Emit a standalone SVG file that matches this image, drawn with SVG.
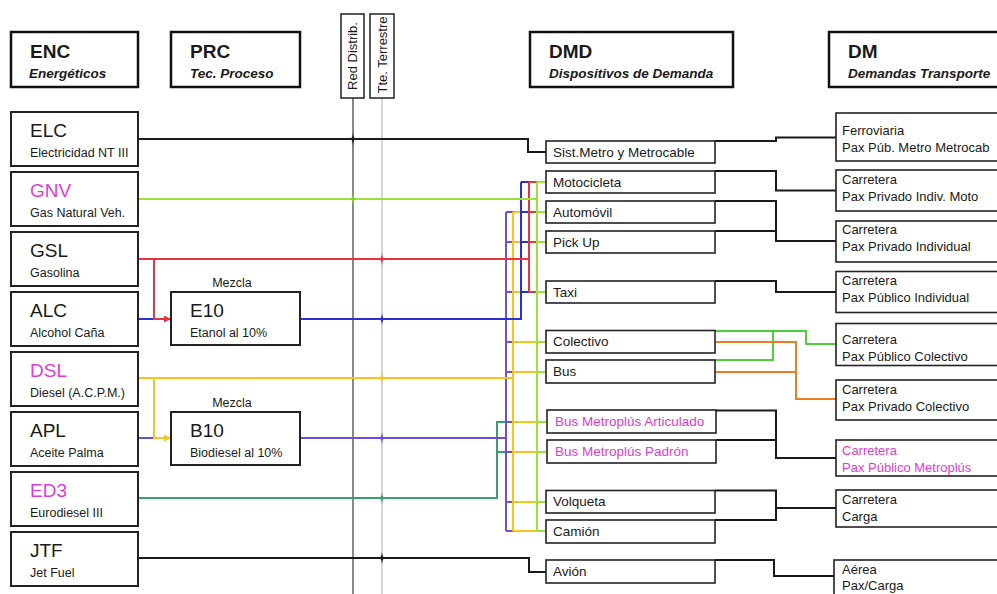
<svg xmlns="http://www.w3.org/2000/svg" width="997" height="594" viewBox="0 0 997 594">
<defs>
<style>
text{font-family:"Liberation Sans",Arial,sans-serif;fill:#1a1a1a}
.hb{fill:#fff;stroke:#111;stroke-width:2.5}
.hl{font-weight:bold;font-size:19px}
.hs{font-weight:bold;font-style:italic;font-size:13.5px}
.nb{fill:#fff;stroke:#222;stroke-width:2}
.nt{font-size:19px}
.ns{font-size:12.5px}
.db{fill:#fff;stroke:#222;stroke-width:1.6}
.dt{font-size:13.5px}
.mt{font-size:13px}
.vb{fill:#fff;stroke:#222;stroke-width:1.5}
.vt{font-size:13px}
.mag{fill:#e23ad4}
.w{fill:none;stroke-width:2}
.k{stroke:#1a1a1a}
.lime{stroke:#9de23a}
.red{stroke:#e8343f}
.blue{stroke:#2b30d6}
.yel{stroke:#f6c51c}
.pur{stroke:#6e4fdc}
.grn{stroke:#3a9f6b}
.bg{stroke:#4ccf3a}
.org{stroke:#f07b22}
</style>
<path id="star" d="M0,-6.5 C0.5,-2 0.8,-0.8 3.5,0 C0.8,0.8 0.5,2 0,6.5 C-0.5,2 -0.8,0.8 -3.5,0 C-0.8,-0.8 -0.5,-2 0,-6.5Z"/>
<marker id="arR" viewBox="0 0 10 10" refX="10" refY="5" markerWidth="7" markerHeight="7" markerUnits="userSpaceOnUse" orient="auto"><path d="M0,0 L10,5 L0,10Z" fill="#e8343f"/></marker>
<marker id="arY" viewBox="0 0 10 10" refX="10" refY="5" markerWidth="7" markerHeight="7" markerUnits="userSpaceOnUse" orient="auto"><path d="M0,0 L10,5 L0,10Z" fill="#f6c51c"/></marker>
</defs>
<rect width="997" height="594" fill="#fff"/>

<!-- headers -->
<g id="hdr-enc"><rect class="hb" x="11" y="32" width="127" height="55"/><text class="hl" x="30" y="58">ENC</text><text class="hs" x="29" y="78">Energéticos</text></g>
<g id="hdr-prc"><rect class="hb" x="171" y="32" width="129" height="55"/><text class="hl" x="190" y="58">PRC</text><text class="hs" x="190" y="78">Tec. Proceso</text></g>
<g id="hdr-dmd"><rect class="hb" x="530" y="32" width="203" height="55"/><text class="hl" x="549" y="58">DMD</text><text class="hs" x="549" y="78">Dispositivos de Demanda</text></g>
<g id="hdr-dm"><rect class="hb" x="829" y="32" width="200" height="55"/><text class="hl" x="848" y="58">DM</text><text class="hs" x="848" y="78">Demandas Transporte</text></g>

<!-- vertical network lines -->
<g id="red-distrib"><line x1="353" y1="98" x2="353" y2="594" stroke="#888" stroke-width="2"/><rect class="vb" x="341" y="14" width="23" height="84"/><text class="vt" transform="translate(357,56) rotate(-90)" text-anchor="middle">Red Distrib.</text></g>
<g id="tte-terrestre"><line x1="382" y1="98" x2="382" y2="594" stroke="#d6d6d6" stroke-width="2"/><rect class="vb" x="370" y="14" width="24" height="84"/><text class="vt" transform="translate(386.5,55) rotate(-90)" text-anchor="middle">Tte. Terrestre</text></g>

<!-- connectors -->
<g id="connectors">
<path class="w k" stroke-width="1.6" d="M138 139 H528 V152 H546"/>
<path class="w k" stroke-width="1.6" d="M138 558 H529 V572 H546"/>
<path class="w blue" d="M138 319 H171"/>
<path class="w pur" d="M138 438 H171"/>
<path class="w red" d="M154 259 V319 H171" marker-end="url(#arR)"/>
<path class="w yel" d="M154 378 V438 H171" marker-end="url(#arY)"/>
<!-- green ED3 -->
<path class="w grn" d="M138 498 H497 V422 H546 M497 452 H546"/>
<!-- purple B10 -->
<path class="w pur" d="M300 438 H506 M506 212 V531 M506 212 H546 M506 242 H546 M506 292 H546 M506 342 H546 M506 372 H546 M506 422 H546 M506 452 H546 M506 502 H546 M506 531 H546"/>
<!-- yellow DSL -->
<path class="w yel" d="M138 378 H513 M513 212 V531 M513 212 H546 M513 242 H546 M513 292 H546 M513 342 H546 M513 372 H546 M513 422 H546 M513 452 H546 M513 502 H546 M513 531 H546"/>
<!-- blue E10 -->
<path class="w blue" d="M300 319 H521 V182 M521 182 H546 M521 212 H546 M521 242 H546 M521 292 H546"/>
<!-- red GSL -->
<path class="w red" d="M138 259 H529 M529 182 V292 M529 182 H546 M529 212 H546 M529 242 H546 M529 292 H546"/>
<!-- lime GNV -->
<path class="w lime" d="M138 199 H537 M537 182 V531 M537 182 H546 M537 212 H546 M537 242 H546 M537 292 H546 M537 342 H546 M537 372 H546 M537 422 H546 M537 452 H546 M537 502 H546 M537 531 H546"/>
<!-- DMD to DM -->
<path class="w k" stroke-width="1.4" d="M715 141 H776 V137.5 H836"/>
<path class="w k" stroke-width="1.4" d="M715 171 H776 V190.5 H836"/>
<path class="w k" stroke-width="1.4" d="M715 201 H776 V241 H836 M715 231 H776"/>
<path class="w k" stroke-width="1.4" d="M715 281 H776 V292 H836"/>
<path class="w bg" d="M715 331 H806 V344 H836 M715 360 H773 V331"/>
<path class="w org" d="M715 342 H796 V399 H836 M715 372 H796"/>
<path class="w k" stroke-width="1.4" d="M716 410.5 H776 V458 H836 M716 440 H776"/>
<path class="w k" stroke-width="1.4" d="M715 490.5 H776 V520 H715 M776 508 H836"/>
<path class="w k" stroke-width="1.4" d="M715 560 H774 V576 H834"/>
<!-- crossing marks -->
<use href="#star" x="353" y="139" fill="#1a1a1a"/>
<use href="#star" x="353" y="199" fill="#7ed321"/>
<use href="#star" x="382" y="259" fill="#e8343f"/>
<use href="#star" x="382" y="319" fill="#2b30d6"/>
<use href="#star" x="382" y="378" fill="#f6c51c"/>
<use href="#star" x="382" y="438" fill="#6e4fdc"/>
<use href="#star" x="382" y="498" fill="#3a9f6b"/>
<use href="#star" x="382" y="558" fill="#1a1a1a"/>
</g>

<!-- ENC nodes -->
<g id="elc"><rect class="nb" x="11" y="112" width="127" height="54"/><text class="nt" x="30" y="137">ELC</text><text class="ns" x="30" y="157">Electricidad NT III</text></g>
<g id="gnv"><rect class="nb" x="11" y="172" width="127" height="54"/><text class="nt mag" x="30" y="197">GNV</text><text class="ns" x="30" y="217">Gas Natural Veh.</text></g>
<g id="gsl"><rect class="nb" x="11" y="232" width="127" height="54"/><text class="nt" x="30" y="257">GSL</text><text class="ns" x="30" y="277">Gasolina</text></g>
<g id="alc"><rect class="nb" x="11" y="292" width="127" height="54"/><text class="nt" x="30" y="317">ALC</text><text class="ns" x="30" y="337">Alcohol Caña</text></g>
<g id="dsl"><rect class="nb" x="11" y="352" width="127" height="54"/><text class="nt mag" x="30" y="377">DSL</text><text class="ns" x="30" y="397">Diesel (A.C.P.M.)</text></g>
<g id="apl"><rect class="nb" x="11" y="412" width="127" height="54"/><text class="nt" x="30" y="437">APL</text><text class="ns" x="30" y="457">Aceite Palma</text></g>
<g id="ed3"><rect class="nb" x="11" y="472" width="127" height="54"/><text class="nt mag" x="30" y="497">ED3</text><text class="ns" x="30" y="517">Eurodiesel III</text></g>
<g id="jtf"><rect class="nb" x="11" y="532" width="127" height="54"/><text class="nt" x="30" y="557">JTF</text><text class="ns" x="30" y="577">Jet Fuel</text></g>

<!-- PRC nodes -->
<g id="e10"><text class="ns" x="232" y="287" text-anchor="middle">Mezcla</text><rect class="nb" x="171" y="292" width="129" height="53"/><text class="nt" x="190" y="317">E10</text><text class="ns" x="190" y="337">Etanol al 10%</text></g>
<g id="b10"><text class="ns" x="232" y="407" text-anchor="middle">Mezcla</text><rect class="nb" x="171" y="412" width="129" height="53"/><text class="nt" x="190" y="437">B10</text><text class="ns" x="190" y="457">Biodiesel al 10%</text></g>

<!-- DMD nodes -->
<g id="d-metro"><rect class="db" x="546" y="141" width="169" height="22"/><text class="dt" x="553" y="156.5">Sist.Metro y Metrocable</text></g>
<g id="d-moto"><rect class="db" x="546" y="171" width="169" height="22"/><text class="dt" x="553" y="186.5">Motocicleta</text></g>
<g id="d-auto"><rect class="db" x="546" y="201" width="169" height="22"/><text class="dt" x="553" y="216.5">Automóvil</text></g>
<g id="d-pickup"><rect class="db" x="546" y="231" width="169" height="22"/><text class="dt" x="553" y="246.5">Pick Up</text></g>
<g id="d-taxi"><rect class="db" x="546" y="281" width="169" height="22"/><text class="dt" x="553" y="296.5">Taxi</text></g>
<g id="d-colectivo"><rect class="db" x="546" y="330.5" width="169" height="22.5"/><text class="dt" x="553" y="346">Colectivo</text></g>
<g id="d-bus"><rect class="db" x="546" y="360" width="169" height="23"/><text class="dt" x="553" y="376">Bus</text></g>
<g id="d-art"><rect class="db" x="547" y="410" width="169" height="23"/><text class="dt mag" x="555" y="426">Bus Metroplús Articulado</text></g>
<g id="d-padron"><rect class="db" x="547" y="440" width="169" height="23"/><text class="dt mag" x="555" y="456">Bus Metroplús Padrón</text></g>
<g id="d-volqueta"><rect class="db" x="546" y="490.5" width="169" height="22.5"/><text class="dt" x="553" y="506">Volqueta</text></g>
<g id="d-camion"><rect class="db" x="546" y="520" width="169" height="23"/><text class="dt" x="553" y="536">Camión</text></g>
<g id="d-avion"><rect class="db" x="546" y="560" width="169" height="23"/><text class="dt" x="553" y="576">Avión</text></g>

<!-- DM nodes -->
<g id="m-ferro"><rect class="db" x="836" y="113" width="180" height="48"/><text class="mt" x="842" y="135">Ferroviaria</text><text class="mt" x="842" y="152">Pax Púb. Metro Metrocab</text></g>
<g id="m-moto"><rect class="db" x="836" y="170" width="180" height="41"/><text class="mt" x="842" y="184">Carretera</text><text class="mt" x="842" y="201">Pax Privado Indiv. Moto</text></g>
<g id="m-privind"><rect class="db" x="836" y="221" width="180" height="41"/><text class="mt" x="842" y="233.5">Carretera</text><text class="mt" x="842" y="250.5">Pax Privado Individual</text></g>
<g id="m-pubind"><rect class="db" x="836" y="271.5" width="180" height="41"/><text class="mt" x="842" y="284.5">Carretera</text><text class="mt" x="842" y="301.5">Pax Público Individual</text></g>
<g id="m-pubcol"><rect class="db" x="836" y="323.5" width="180" height="42"/><text class="mt" x="842" y="344">Carretera</text><text class="mt" x="842" y="361">Pax Público Colectivo</text></g>
<g id="m-privcol"><rect class="db" x="836" y="380" width="180" height="40"/><text class="mt" x="842" y="394">Carretera</text><text class="mt" x="842" y="411">Pax Privado Colectivo</text></g>
<g id="m-metroplus"><rect class="db" x="836" y="440" width="180" height="36"/><text class="mt mag" x="842" y="455">Carretera</text><text class="mt mag" x="842" y="472">Pax Público Metroplús</text></g>
<g id="m-carga"><rect class="db" x="836" y="490" width="180" height="37"/><text class="mt" x="842" y="504">Carretera</text><text class="mt" x="842" y="521">Carga</text></g>
<g id="m-aerea"><rect class="db" x="834" y="560" width="180" height="45"/><text class="mt" x="842" y="573.5">Aérea</text><text class="mt" x="842" y="590">Pax/Carga</text></g>
</svg>
